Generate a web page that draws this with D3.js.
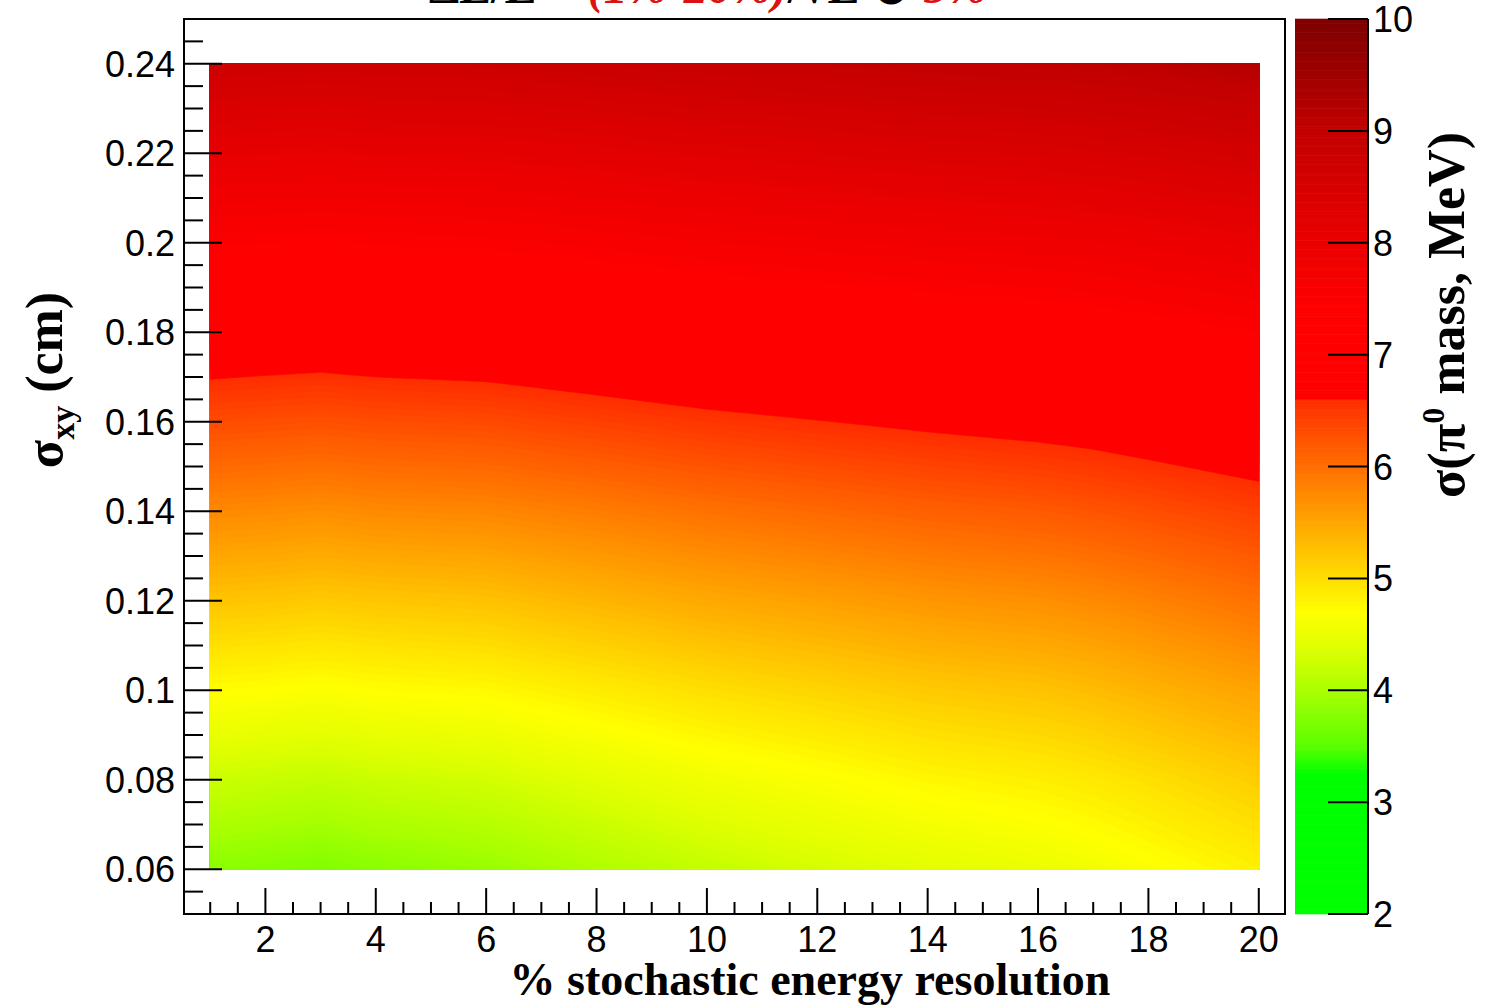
<!DOCTYPE html>
<html>
<head>
<meta charset="utf-8">
<script src="https://cdn.jsdelivr.net/npm/d3@7"></script>
<style>
  body { margin: 0; background: #fff; }
  svg { display: block; }
</style>
</head>
<body>
<script>
// stochastic term (%) and position resolution (cm) of the grid
var xVals = [1, 2, 3, 4, 6, 8, 10, 12, 14, 16, 17, 18, 20];
var yVals = [0.06, 0.08, 0.10, 0.12, 0.14, 0.16, 0.18, 0.20, 0.22, 0.24];

// sigma(pi0 mass) in MeV, one row per yVals entry, one column per xVals entry
var sigmaRows = [
  [3.80, 3.77, 3.74, 3.80, 3.88, 4.04, 4.19, 4.31, 4.42, 4.50, 4.57, 4.66, 4.83],
  [4.24, 4.21, 4.18, 4.23, 4.29, 4.42, 4.56, 4.66, 4.77, 4.84, 4.90, 4.98, 5.15],
  [4.72, 4.70, 4.67, 4.71, 4.75, 4.87, 4.99, 5.08, 5.18, 5.24, 5.30, 5.38, 5.53],
  [5.23, 5.21, 5.18, 5.21, 5.25, 5.36, 5.47, 5.55, 5.64, 5.70, 5.75, 5.82, 5.97],
  [5.76, 5.74, 5.71, 5.75, 5.78, 5.87, 5.97, 6.05, 6.13, 6.19, 6.24, 6.30, 6.43],
  [6.32, 6.30, 6.28, 6.31, 6.34, 6.43, 6.52, 6.59, 6.66, 6.72, 6.76, 6.82, 6.94],
  [6.91, 6.88, 6.86, 6.89, 6.92, 7.00, 7.09, 7.15, 7.22, 7.27, 7.31, 7.36, 7.48],
  [7.50, 7.48, 7.46, 7.49, 7.52, 7.59, 7.67, 7.73, 7.79, 7.84, 7.87, 7.92, 8.03],
  [8.11, 8.09, 8.07, 8.10, 8.12, 8.19, 8.26, 8.32, 8.38, 8.42, 8.46, 8.50, 8.60],
  [8.73, 8.71, 8.69, 8.72, 8.74, 8.80, 8.87, 8.92, 8.98, 9.02, 9.05, 9.09, 9.19]
];

var xTicks = [2, 4, 6, 8, 10, 12, 14, 16, 18, 20];
var yTicks = [0.06, 0.08, 0.10, 0.12, 0.14, 0.16, 0.18, 0.20, 0.22, 0.24];
var yTickLabels = ["0.06", "0.08", "0.1", "0.12", "0.14", "0.16", "0.18", "0.2", "0.22", "0.24"];
var zTicks = [2, 3, 4, 5, 6, 7, 8, 9, 10];

// palette stops (value -> colour)
var paletteStops = [2, 3.25, 3.5, 4, 4.4, 4.7, 5, 6, 6.6, 6.6001, 7.4, 8, 9, 10];
var paletteColors = ["rgb(0,255,0)", "rgb(0,255,0)", "rgb(90,255,0)", "rgb(170,255,0)",
  "rgb(225,255,0)", "rgb(255,255,0)", "rgb(255,222,0)", "rgb(255,110,0)", "rgb(255,45,0)",
  "rgb(255,0,0)", "rgb(255,0,0)", "rgb(235,0,0)", "rgb(195,0,0)", "rgb(125,0,0)"];

var width = 1491;
var height = 1008;

var svg = d3.select("body").append("svg")
  .attr("width", width)
  .attr("height", height);

var frame = {left: 184, right: 1285, top: 19, bottom: 914};

var x = d3.scaleLinear().domain([0.525, 20.475]).range([frame.left, frame.right]);
var y = d3.scaleLinear().domain([0.05, 0.25]).range([frame.bottom, frame.top]);
var z = d3.scaleLinear().domain([2, 10]).range([frame.bottom, frame.top]);
var color = d3.scaleLinear().domain(paletteStops).range(paletteColors).clamp(true);

// bilinear lookup in the grid, used to resample it finely for the contours
function sigmaAt(xv, yv) {
  var i = Math.min(Math.max(d3.bisectRight(xVals, xv) - 1, 0), xVals.length - 2);
  var j = Math.min(Math.max(d3.bisectRight(yVals, yv) - 1, 0), yVals.length - 2);
  var tx = (xv - xVals[i]) / (xVals[i + 1] - xVals[i]);
  var ty = (yv - yVals[j]) / (yVals[j + 1] - yVals[j]);
  var a = sigmaRows[j][i], b = sigmaRows[j][i + 1];
  var c = sigmaRows[j + 1][i], d = sigmaRows[j + 1][i + 1];
  return (a * (1 - tx) + b * tx) * (1 - ty) + (c * (1 - tx) + d * tx) * ty;
}

var nx = 191, ny = 181, dx = 0.1, dy = 0.001;
var grid = new Array(nx * ny);
for (var j = 0; j < ny; j++) {
  for (var i = 0; i < nx; i++) {
    grid[j * nx + i] = sigmaAt(1 + i * dx, 0.06 + j * dy);
  }
}

var step = 0.04;
var levels = d3.range(2, 10, step);
var contours = d3.contours().size([nx, ny]).thresholds(levels)(grid);

var toPlot = d3.geoTransform({
  point: function(px, py) {
    var xv = Math.min(Math.max(1 + (px - 0.5) * dx, 1), 20);
    var yv = Math.min(Math.max(0.06 + (py - 0.5) * dy, 0.06), 0.24);
    this.stream.point(x(xv), y(yv));
  }
});
var path = d3.geoPath(toPlot);

svg.append("g").attr("class", "contours")
  .selectAll("path")
  .data(contours)
  .enter().append("path")
  .attr("d", path)
  .attr("fill", function(d) { return color(d.value + step / 2); })
  .attr("stroke", function(d) { return color(d.value + step / 2); })
  .attr("stroke-width", 0.6);

// frame
svg.append("rect")
  .attr("x", frame.left).attr("y", frame.top)
  .attr("width", frame.right - frame.left).attr("height", frame.bottom - frame.top)
  .attr("fill", "none").attr("stroke", "#000").attr("stroke-width", 2);

// x axis ticks
var xMinor = d3.range(1, 20.01, 0.5).filter(function(v) { return v % 2 !== 0; });
svg.append("g").selectAll("line").data(xMinor).enter().append("line")
  .attr("x1", function(d) { return x(d); }).attr("x2", function(d) { return x(d); })
  .attr("y1", frame.bottom).attr("y2", frame.bottom - 12)
  .attr("stroke", "#000").attr("stroke-width", 2);
svg.append("g").selectAll("line").data(xTicks).enter().append("line")
  .attr("x1", function(d) { return x(d); }).attr("x2", function(d) { return x(d); })
  .attr("y1", frame.bottom).attr("y2", frame.bottom - 26)
  .attr("stroke", "#000").attr("stroke-width", 2);
svg.append("g").selectAll("text").data(xTicks).enter().append("text")
  .attr("x", function(d) { return x(d); })
  .attr("y", 952)
  .attr("text-anchor", "middle")
  .style("font-family", "Liberation Sans, Arial, sans-serif")
  .style("font-size", "36px")
  .text(function(d) { return d; });

// y axis ticks
var yMinor = d3.range(0.05, 0.2501, 0.005).filter(function(v) {
  return Math.abs(Math.round(v * 50) - v * 50) > 1e-6;
});
svg.append("g").selectAll("line").data(yMinor).enter().append("line")
  .attr("x1", frame.left).attr("x2", frame.left + 19)
  .attr("y1", function(d) { return y(d); }).attr("y2", function(d) { return y(d); })
  .attr("stroke", "#000").attr("stroke-width", 2);
svg.append("g").selectAll("line").data(yTicks).enter().append("line")
  .attr("x1", frame.left).attr("x2", frame.left + 38)
  .attr("y1", function(d) { return y(d); }).attr("y2", function(d) { return y(d); })
  .attr("stroke", "#000").attr("stroke-width", 2);
svg.append("g").selectAll("text").data(yTicks).enter().append("text")
  .attr("x", 175)
  .attr("y", function(d) { return y(d) + 13; })
  .attr("text-anchor", "end")
  .style("font-family", "Liberation Sans, Arial, sans-serif")
  .style("font-size", "36px")
  .text(function(d, i) { return yTickLabels[i]; });

// colour bar
var bar = {left: 1295, right: 1368};
var zSteps = d3.range(2, 10, 0.02);
svg.append("g").selectAll("rect").data(zSteps).enter().append("rect")
  .attr("x", bar.left)
  .attr("width", bar.right - bar.left)
  .attr("y", function(d) { return z(d + 0.02) - 0.3; })
  .attr("height", function(d) { return z(d) - z(d + 0.02) + 0.6; })
  .attr("fill", function(d) { return color(d + 0.01); });
svg.append("line")
  .attr("x1", bar.right).attr("x2", bar.right)
  .attr("y1", frame.top).attr("y2", frame.bottom)
  .attr("stroke", "#000").attr("stroke-width", 2);
svg.append("g").selectAll("line").data(zTicks).enter().append("line")
  .attr("x1", bar.right).attr("x2", bar.right - 40)
  .attr("y1", function(d) { return z(d); }).attr("y2", function(d) { return z(d); })
  .attr("stroke", "#000").attr("stroke-width", 2);
svg.append("g").selectAll("text").data(zTicks).enter().append("text")
  .attr("x", 1373)
  .attr("y", function(d) { return z(d) + 13; })
  .style("font-family", "Liberation Sans, Arial, sans-serif")
  .style("font-size", "36px")
  .text(function(d) { return d; });

// axis titles
var serif = "Liberation Serif, Times New Roman, serif";

svg.append("text")
  .attr("x", 810).attr("y", 995)
  .attr("text-anchor", "middle")
  .style("font-family", serif).style("font-weight", "bold").style("font-size", "46px")
  .text("% stochastic energy resolution");

var yTitle = svg.append("text")
  .attr("transform", "translate(62,380) rotate(-90)")
  .attr("text-anchor", "middle")
  .style("font-family", serif).style("font-weight", "bold").style("font-size", "52px");
yTitle.append("tspan").text("σ");
yTitle.append("tspan").attr("dy", 12).style("font-size", "34px").text("xy");
yTitle.append("tspan").attr("dy", -12).text(" (cm)");

var zTitle = svg.append("text")
  .attr("transform", "translate(1464,315) rotate(-90)")
  .attr("text-anchor", "middle")
  .style("font-family", serif).style("font-weight", "bold").style("font-size", "52px");
zTitle.append("tspan").text("σ(π");
zTitle.append("tspan").attr("dy", -20).style("font-size", "32px").text("0");
zTitle.append("tspan").attr("dy", 20).text(" mass, MeV)");

// title, mostly above the page edge
var title = svg.append("text")
  .attr("x", 429).attr("y", 3)
  .style("font-family", serif).style("font-weight", "bold").style("font-size", "48px");
title.append("tspan").attr("fill", "#000").text("ΔE/E = ");
title.append("tspan").attr("fill", "#d11").style("font-style", "italic").text("(1%-20%)");
title.append("tspan").attr("fill", "#000").text("/√E ⊕ ");
title.append("tspan").attr("fill", "#d11").style("font-style", "italic").text("5%");
</script>
</body>
</html>
